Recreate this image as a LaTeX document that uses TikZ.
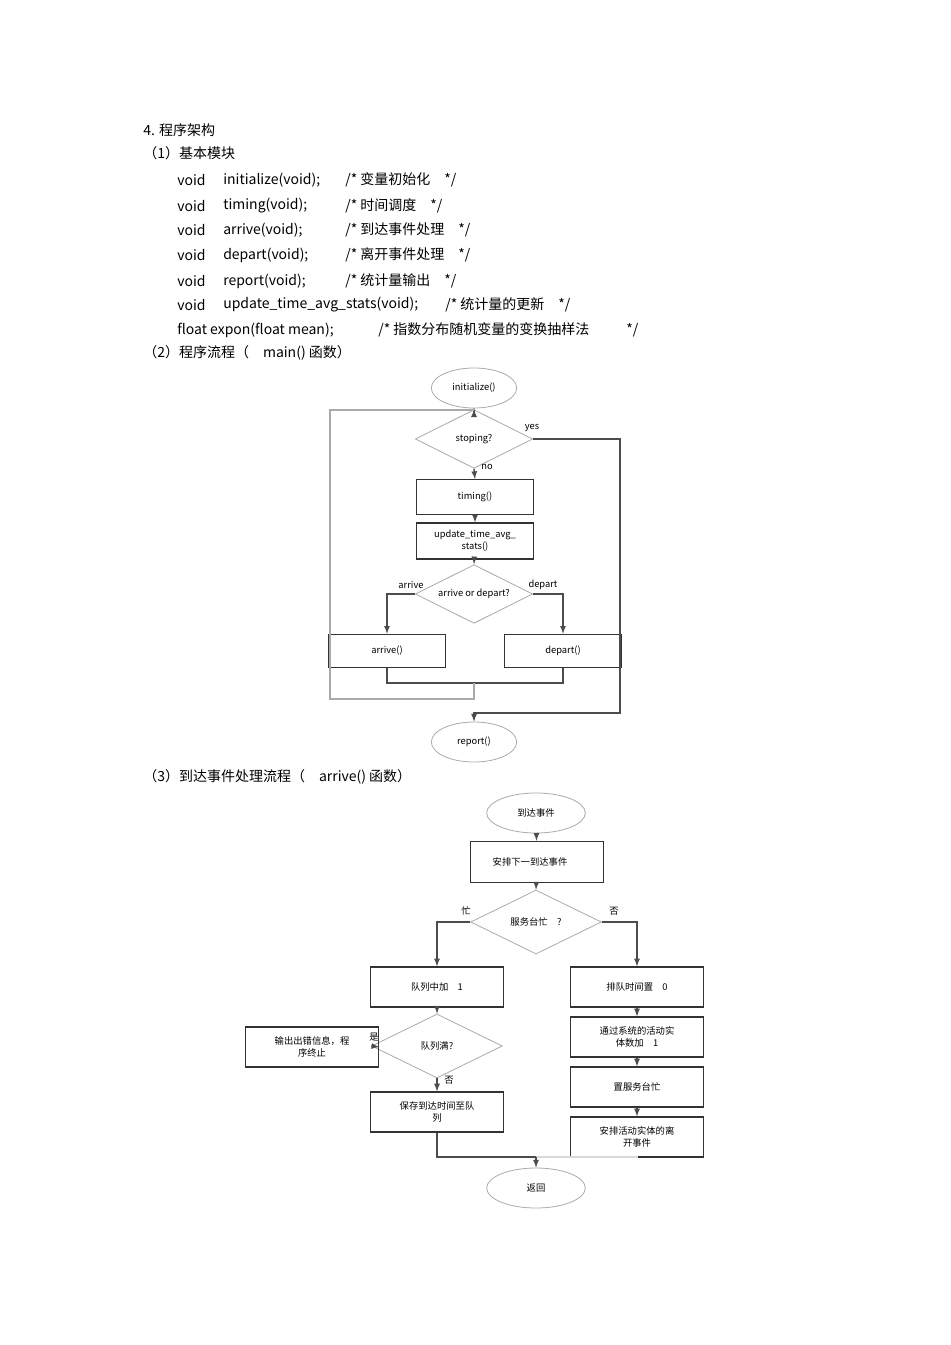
\documentclass[tikz,border=0pt]{standalone}
\usepackage{fontspec}
\setmainfont{Liberation Sans}
\newfontfamily\cjk{Noto Sans CJK SC}
\usetikzlibrary{shapes.geometric}
\definecolor{flowgray}{RGB}{170,170,170}
\tikzset{
  txt/.style={anchor=west, font=\fontsize{10.5}{12}\selectfont\cjk, inner sep=0pt},
  term/.style={ellipse, draw=flowgray, line width=0.6pt, font=\fontsize{7}{8}\selectfont\cjk, inner sep=0pt},
  proc/.style={rectangle, draw=black!80, line width=0.9pt, font=\fontsize{7}{9}\selectfont\cjk, align=center, inner sep=0pt},
  dec/.style={diamond, draw=flowgray, line width=0.6pt, aspect=2, font=\fontsize{7}{8}\selectfont\cjk, inner sep=0pt},
  lbl/.style={font=\fontsize{7}{8}\selectfont\cjk, inner sep=0pt},
  flow/.style={draw=black!70, line width=1pt, -latex},
  line/.style={draw=black!70, line width=1pt},
}
\begin{document}
\begin{tikzpicture}[x=0.75pt, y=-0.75pt]
    \useasboundingbox (0,0) rectangle (950,1345);

    % Section text
    \node[txt] (t4) at (143,130) {4. 程序架构};
    \node[txt] (t1) at (143,153) {（1）基本模块};
    \node[txt] at (177,180) {void}; \node[txt] at (223,180) {initialize(void);}; \node[txt] at (345,180) {/* 变量初始化\quad */};
    \node[txt] at (177,206) {void}; \node[txt] at (223,206) {timing(void);}; \node[txt] at (345,206) {/* 时间调度\quad */};
    \node[txt] at (177,230) {void}; \node[txt] at (223,230) {arrive(void);}; \node[txt] at (345,230) {/* 到达事件处理\quad */};
    \node[txt] at (177,255) {void}; \node[txt] at (223,255) {depart(void);}; \node[txt] at (345,255) {/* 离开事件处理\quad */};
    \node[txt] at (177,281) {void}; \node[txt] at (223,281) {report(void);}; \node[txt] at (345,281) {/* 统计量输出\quad */};
    \node[txt] at (177,305) {void}; \node[txt] at (223,305) {update\_time\_avg\_stats(void);}; \node[txt] at (445,305) {/* 统计量的更新\quad */};
    \node[txt] at (177,330) {float expon(float mean);}; \node[txt] at (378,330) {/* 指数分布随机变量的变换抽样法}; \node[txt] at (626,330) {*/};
    \node[txt] (t2) at (143,353) {（2）程序流程（\quad main() 函数）};
    \node[txt] (t3) at (143,777) {（3）到达事件处理流程（\quad arrive()\ 函数）};

    % Flow 1 - main()
    \node[term, minimum width=64, minimum height=30] (init) at (474,388) {initialize()};
    \node[dec, minimum width=88, minimum height=44] (stop) at (474,439) {stoping?};
    \node[proc, minimum width=88, minimum height=26] (timing) at (475,497) {timing()};
    \node[proc, minimum width=88, minimum height=27] (upd) at (475,541) {update\_time\_avg\_\\stats()};
    \node[dec, minimum width=88, minimum height=44] (ad) at (474,594) {arrive or depart?};
    \node[proc, minimum width=88, minimum height=25] (arr) at (387,651) {arrive()};
    \node[proc, minimum width=88, minimum height=25] (dep) at (563,651) {depart()};
    \node[term, minimum width=64, minimum height=30] (rep) at (474,742) {report()};
    \coordinate (loopin) at (474,410);
    \coordinate (merge1) at (474,683);
    \coordinate (back1) at (474,699);
    \node[lbl] at (532,428) {yes};
    \node[lbl] at (487,467) {no};
    \node[lbl] at (411,585) {arrive};
    \node[lbl] at (543,585) {depart};

    \draw[line, draw=flowgray] (init) -- (loopin);
    \draw[flow] (loopin) -- (stop.north);
    \draw[flow] (stop.south) -- (timing.north);
    \draw[flow] (timing) -- (upd);
    \draw[flow] (upd) -- (ad.north);
    \draw[flow] (ad.west) -| (arr.north);
    \draw[flow] (ad.east) -| (dep.north);
    \draw[line] (arr.south) |- (merge1) -| (dep.south);
    \draw[line, draw=flowgray] (merge1) -- (back1) -| (330,410) -- (loopin);
    \draw[flow] (stop.east) -| (620,713) -| (rep.north);

    % Flow 2 - arrive()
    \node[term, minimum width=74, minimum height=30] (ev) at (536,813) {到达事件};
    \node[proc, minimum width=100, minimum height=31] (next) at (537,862) {安排下一到达事件\hspace{1.5em}};
    \node[dec, minimum width=98, minimum height=48] (busy) at (536,922) {服务台忙\quad ?};
    \node[proc, minimum width=100, minimum height=30] (qadd) at (437,987) {队列中加\quad 1};
    \node[proc, minimum width=100, minimum height=30] (wait) at (637,987) {排队时间置\quad 0};
    \node[dec, minimum width=98, minimum height=48] (full) at (437,1046) {队列满?};
    \node[proc, minimum width=100, minimum height=30] (err) at (312,1047) {输出出错信息，程\\序终止};
    \node[proc, minimum width=100, minimum height=30] (save) at (437,1112) {保存到达时间至队\\列};
    \node[proc, minimum width=100, minimum height=30] (cnt) at (637,1037) {通过系统的活动实\\体数加\quad 1};
    \node[proc, minimum width=100, minimum height=30] (set) at (637,1087) {置服务台忙};
    \node[proc, minimum width=100, minimum height=30] (dsch) at (637,1137) {安排活动实体的离\\开事件};
    \node[term, minimum width=74, minimum height=30] (ret) at (536,1188) {返回};
    \coordinate (merge2) at (536,1157);
    \node[lbl] at (466,911) {忙};
    \node[lbl] at (614,911) {否};
    \node[lbl] at (374,1037) {是};
    \node[lbl] at (449,1080) {否};

    \draw[flow] (ev) -- (next);
    \draw[flow] (next) -- (busy.north);
    \draw[flow] (busy.west) -| (qadd.north);
    \draw[flow] (busy.east) -| (wait.north);
    \draw[flow] (qadd) -- (full.north);
    \draw[flow] (full.west) -- (err.east);
    \draw[flow] (full.south) -- (save.north);
    \draw[flow] (wait) -- (cnt);
    \draw[flow] (cnt) -- (set);
    \draw[flow] (set) -- (dsch);
    \draw[line] (save.south) |- (merge2);
    \draw[line, draw=black!15] (dsch.south) |- (merge2);
    \draw[flow] (merge2) -- (ret.north);
\end{tikzpicture}
\end{document}
